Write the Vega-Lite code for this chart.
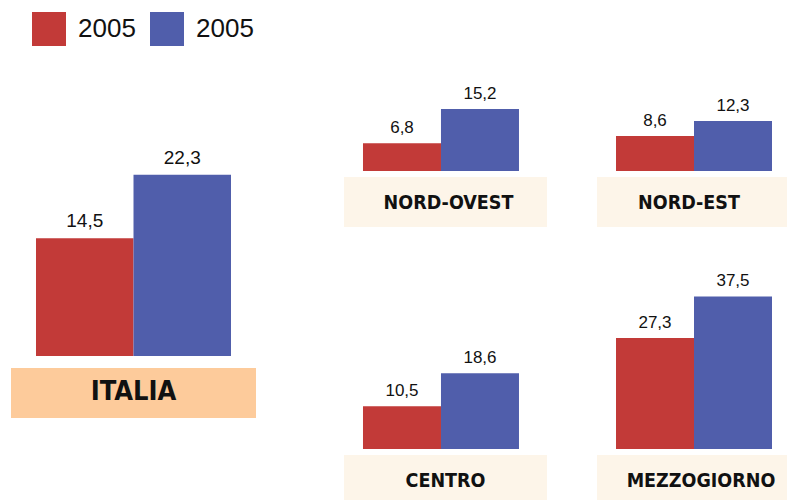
{
  "$schema": "https://vega.github.io/schema/vega-lite/v6.json",
  "padding": {"left": 11, "top": 12, "right": 0, "bottom": 0},
  "autosize": {"type": "pad"},
  "background": "white",
  "data": {
    "values": [
      {"regione": "ITALIA", "serie": "A", "valore": 14.5},
      {"regione": "ITALIA", "serie": "B", "valore": 22.3},
      {"regione": "NORD-OVEST", "serie": "A", "valore": 6.8},
      {"regione": "NORD-OVEST", "serie": "B", "valore": 15.2},
      {"regione": "NORD-EST", "serie": "A", "valore": 8.6},
      {"regione": "NORD-EST", "serie": "B", "valore": 12.3},
      {"regione": "CENTRO", "serie": "A", "valore": 10.5},
      {"regione": "CENTRO", "serie": "B", "valore": 18.6},
      {"regione": "MEZZOGIORNO", "serie": "A", "valore": 27.3},
      {"regione": "MEZZOGIORNO", "serie": "B", "valore": 37.5}
    ]
  },
  "spacing": 88,
  "hconcat": [
    {
      "spacing": 12,
      "bounds": "flush",
      "vconcat": [
        {
          "width": 245, "height": 286,
          "transform": [{"filter": "datum.regione === 'ITALIA'"}],
          "encoding": {
            "x": {"field": "serie", "type": "nominal", "scale": {"paddingInner": 0, "paddingOuter": 0.2564, "align": 0.5}, "axis": null},
            "y": {"field": "valore", "type": "quantitative", "scale": {"domain": [0, 35.2]}, "axis": null}
          },
          "layer": [
            {"mark": {"type": "bar"}, "encoding": {"color": {"field": "serie", "type": "nominal", "scale": {"domain": ["A", "B"], "range": ["#C23A38", "#505EAB"]}, "legend": {"title": null, "labelExpr": "'2005'", "orient": "none", "legendX": 21, "legendY": -58, "direction": "horizontal", "symbolType": "square", "symbolSize": 1156, "symbolStrokeWidth": 0, "labelFontSize": 26, "labelFont": "Liberation Sans", "labelColor": "#111111", "labelOffset": 12, "columnPadding": 14}}}},
            {"mark": {"type": "text", "baseline": "alphabetic", "dy": -11, "fontSize": 19, "font": "Liberation Sans", "color": "#111111"}, "encoding": {"text": {"field": "valore", "type": "quantitative", "format": ".1f"}}}
          ]
        },
        {
          "width": 245, "height": 50,
          "view": {"fill": "#FDCB9B", "stroke": null},
          "transform": [{"filter": "datum.regione === 'ITALIA' && datum.serie === 'A'"}],
          "mark": {"type": "text", "fontSize": 27, "fontWeight": "bold", "font": "DejaVu Sans Condensed, Roboto Condensed, Liberation Sans, sans-serif", "color": "#111111", "dy": -1},
          "encoding": {"text": {"field": "regione", "type": "nominal"}}
        }
      ]
    },
    {
      "spacing": 30,
      "vconcat": [
        {
          "spacing": 50,
          "hconcat": [
            {
              "spacing": 6, "bounds": "flush",
              "vconcat": [
                {
                  "width": 203, "height": 101,
                  "transform": [{"filter": "datum.regione === 'NORD-OVEST'"}],
                  "encoding": {
                    "x": {"field": "serie", "type": "nominal", "scale": {"paddingInner": 0, "paddingOuter": 0.3013, "align": 0.404}, "axis": null},
                    "y": {"field": "valore", "type": "quantitative", "scale": {"domain": [0, 24.8]}, "axis": null}
                  },
                  "layer": [
                    {"mark": {"type": "bar"}, "encoding": {"color": {"field": "serie", "type": "nominal", "scale": {"domain": ["A", "B"], "range": ["#C23A38", "#505EAB"]}}}},
                    {"mark": {"type": "text", "baseline": "alphabetic", "dy": -10, "fontSize": 17, "font": "Liberation Sans", "color": "#111111"}, "encoding": {"text": {"field": "valore", "type": "quantitative", "format": ".1f"}}}
                  ]
                },
                {
                  "width": 203, "height": 50,
                  "view": {"fill": "#FDF5E9", "stroke": null},
                  "transform": [{"filter": "datum.regione === 'NORD-OVEST' && datum.serie === 'A'"}],
                  "mark": {"type": "text", "fontSize": 19.5, "fontWeight": "bold", "font": "DejaVu Sans Condensed, Roboto Condensed, Liberation Sans, sans-serif", "color": "#111111", "dx": 3, "dy": 1},
                  "encoding": {"text": {"field": "regione", "type": "nominal"}}
                }
              ]
            },
            {
              "spacing": 6, "bounds": "flush",
              "vconcat": [
                {
                  "width": 190, "height": 101,
                  "transform": [{"filter": "datum.regione === 'NORD-EST'"}],
                  "encoding": {
                    "x": {"field": "serie", "type": "nominal", "scale": {"paddingInner": 0, "paddingOuter": 0.218, "align": 0.559}, "axis": null},
                    "y": {"field": "valore", "type": "quantitative", "scale": {"domain": [0, 24.8]}, "axis": null}
                  },
                  "layer": [
                    {"mark": {"type": "bar"}, "encoding": {"color": {"field": "serie", "type": "nominal", "scale": {"domain": ["A", "B"], "range": ["#C23A38", "#505EAB"]}}}},
                    {"mark": {"type": "text", "baseline": "alphabetic", "dy": -10, "fontSize": 17, "font": "Liberation Sans", "color": "#111111"}, "encoding": {"text": {"field": "valore", "type": "quantitative", "format": ".1f"}}}
                  ]
                },
                {
                  "width": 190, "height": 50,
                  "view": {"fill": "#FDF5E9", "stroke": null},
                  "transform": [{"filter": "datum.regione === 'NORD-EST' && datum.serie === 'A'"}],
                  "mark": {"type": "text", "fontSize": 19.5, "fontWeight": "bold", "font": "DejaVu Sans Condensed, Roboto Condensed, Liberation Sans, sans-serif", "color": "#111111", "dx": -3, "dy": 1},
                  "encoding": {"text": {"field": "regione", "type": "nominal"}}
                }
              ]
            }
          ]
        },
        {
          "spacing": 50,
          "hconcat": [
            {
              "spacing": 6, "bounds": "flush",
              "vconcat": [
                {
                  "width": 203, "height": 192,
                  "transform": [{"filter": "datum.regione === 'CENTRO'"}],
                  "encoding": {
                    "x": {"field": "serie", "type": "nominal", "scale": {"paddingInner": 0, "paddingOuter": 0.3013, "align": 0.404}, "axis": null},
                    "y": {"field": "valore", "type": "quantitative", "scale": {"domain": [0, 47.2]}, "axis": null}
                  },
                  "layer": [
                    {"mark": {"type": "bar"}, "encoding": {"color": {"field": "serie", "type": "nominal", "scale": {"domain": ["A", "B"], "range": ["#C23A38", "#505EAB"]}}}},
                    {"mark": {"type": "text", "baseline": "alphabetic", "dy": -10, "fontSize": 17, "font": "Liberation Sans", "color": "#111111"}, "encoding": {"text": {"field": "valore", "type": "quantitative", "format": ".1f"}}}
                  ]
                },
                {
                  "width": 203, "height": 45,
                  "view": {"fill": "#FDF5E9", "stroke": null},
                  "transform": [{"filter": "datum.regione === 'CENTRO' && datum.serie === 'A'"}],
                  "mark": {"type": "text", "fontSize": 19.5, "fontWeight": "bold", "font": "DejaVu Sans Condensed, Roboto Condensed, Liberation Sans, sans-serif", "color": "#111111", "dy": 3},
                  "encoding": {"text": {"field": "regione", "type": "nominal"}}
                }
              ]
            },
            {
              "spacing": 6, "bounds": "flush",
              "vconcat": [
                {
                  "width": 190, "height": 192,
                  "transform": [{"filter": "datum.regione === 'MEZZOGIORNO'"}],
                  "encoding": {
                    "x": {"field": "serie", "type": "nominal", "scale": {"paddingInner": 0, "paddingOuter": 0.218, "align": 0.559}, "axis": null},
                    "y": {"field": "valore", "type": "quantitative", "scale": {"domain": [0, 47.2]}, "axis": null}
                  },
                  "layer": [
                    {"mark": {"type": "bar"}, "encoding": {"color": {"field": "serie", "type": "nominal", "scale": {"domain": ["A", "B"], "range": ["#C23A38", "#505EAB"]}}}},
                    {"mark": {"type": "text", "baseline": "alphabetic", "dy": -10, "fontSize": 17, "font": "Liberation Sans", "color": "#111111"}, "encoding": {"text": {"field": "valore", "type": "quantitative", "format": ".1f"}}}
                  ]
                },
                {
                  "width": 190, "height": 45,
                  "view": {"fill": "#FDF5E9", "stroke": null},
                  "transform": [{"filter": "datum.regione === 'MEZZOGIORNO' && datum.serie === 'A'"}],
                  "mark": {"type": "text", "fontSize": 19.5, "fontWeight": "bold", "font": "DejaVu Sans Condensed, Roboto Condensed, Liberation Sans, sans-serif", "color": "#111111", "dx": 9, "dy": 3},
                  "encoding": {"text": {"field": "regione", "type": "nominal"}}
                }
              ]
            }
          ]
        }
      ]
    }
  ],
  "config": {
    "view": {"stroke": null},
    "locale": {"number": {"decimal": ",", "thousands": ".", "grouping": [3], "currency": ["€", ""]}}
  }
}
